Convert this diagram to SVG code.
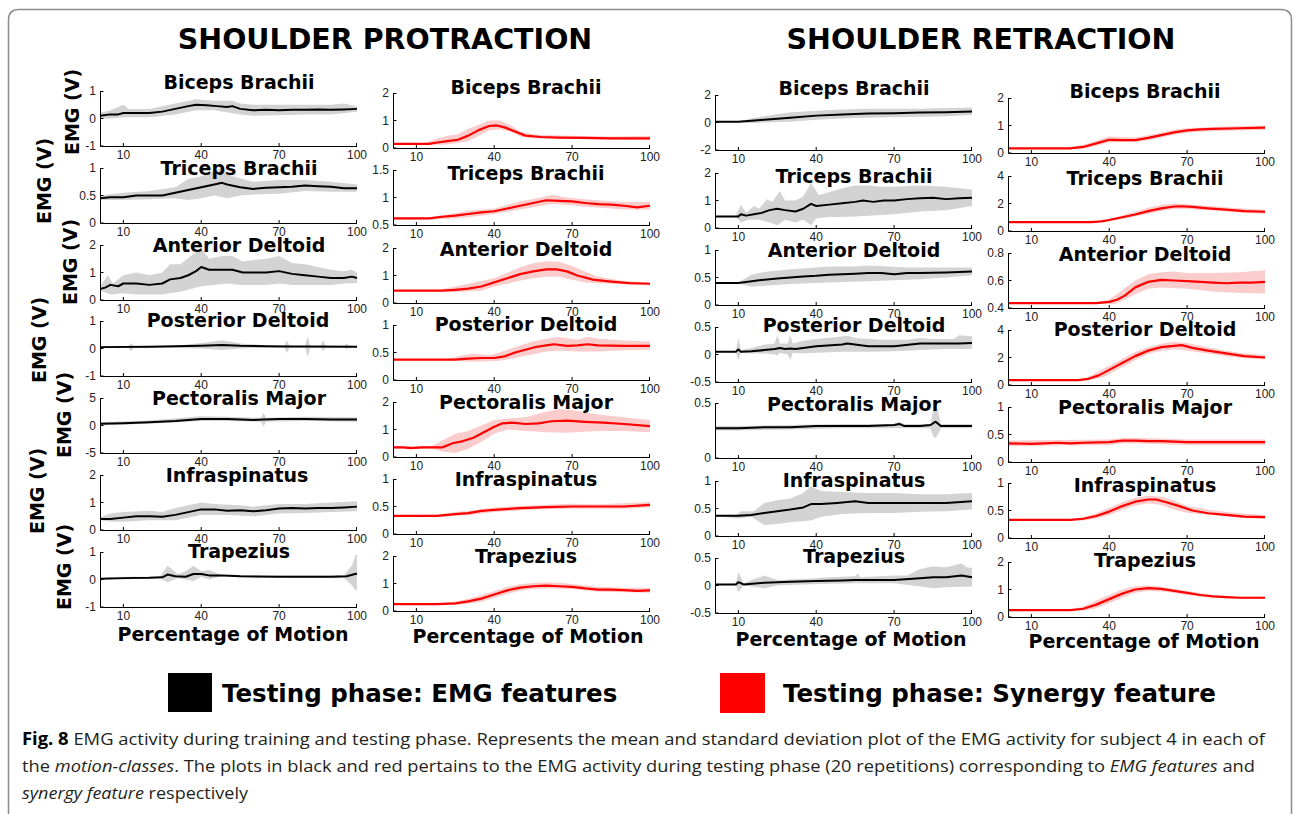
<svg xmlns="http://www.w3.org/2000/svg" xmlns:xlink="http://www.w3.org/1999/xlink" width="1293" height="814" viewBox="0 0 1293 814">
<style>
.ti{font-family:"DejaVu Sans",sans-serif;font-weight:bold;font-size:19px;text-anchor:middle;fill:#000}
.hd{font-family:"DejaVu Sans",sans-serif;font-weight:bold;font-size:28.5px;text-anchor:middle;fill:#000}
.yl{font-family:"DejaVu Sans",sans-serif;font-weight:bold;font-size:19px;text-anchor:middle;fill:#000}
.tk{font-family:"Liberation Sans",Arial,sans-serif;font-size:12px;fill:#222}
.xt{text-anchor:middle}
.yt{font-family:"Liberation Sans",Arial,sans-serif;font-size:12px;fill:#222;text-anchor:end}
.ax{fill:none;stroke:#000;stroke-width:1}
.bk{fill:#d3d3d3}
.br{fill:#fbcccc}
.mk{fill:none;stroke:#000;stroke-width:2;stroke-linejoin:round;vector-effect:non-scaling-stroke}
.mr{fill:none;stroke:#f00;stroke-width:2.2;stroke-linejoin:round;vector-effect:non-scaling-stroke}
.lg{font-family:"DejaVu Sans",sans-serif;font-weight:bold;font-size:24.5px;fill:#000}
.cap{font-family:"Open Sans","Noto Sans",sans-serif;font-size:17px;fill:#231f20}
</style>
<defs>
<g id="axx">
<path class="ax" d="M0.5,0V55.5H257 M0.5,55h0 M23.4,55v-3 M101.2,55v-3 M179.1,55v-3 M256.5,55v-3 M0.5,0.5h3 M0.5,55h3"/>
<text class="tk xt" x="23.4" y="68">10</text>
<text class="tk xt" x="101.2" y="68">40</text>
<text class="tk xt" x="179.1" y="68">70</text>
<text class="tk xt" x="257" y="68">100</text>
</g>
<g id="ax"><use xlink:href="#axx"/><path class="ax" d="M0.5,27.5h3"/></g>
</defs>

<path d="M8.5,814V20Q8.5,9.5 19,9.5H1281Q1291.5,9.5 1291.5,20V814" fill="none" stroke="#8c8c8c" stroke-width="1.5"/>

<text class="hd" x="385" y="49">SHOULDER PROTRACTION</text>
<text class="hd" x="981" y="49">SHOULDER RETRACTION</text>

<g id="ylabels">
<text class="yl" transform="translate(79,112) rotate(-90)">EMG (V)</text>
<text class="yl" transform="translate(51,181) rotate(-90)">EMG (V)</text>
<text class="yl" transform="translate(77,262) rotate(-90)">EMG (V)</text>
<text class="yl" transform="translate(46,340) rotate(-90)">EMG (V)</text>
<text class="yl" transform="translate(71,415) rotate(-90)">EMG (V)</text>
<text class="yl" transform="translate(44,491) rotate(-90)">EMG (V)</text>
<text class="yl" transform="translate(71,567) rotate(-90)">EMG (V)</text>
</g>

<!-- Column 1: protraction EMG -->
<g id="c1r1">
<g transform="translate(97.404,118.5) scale(2.59596,-27.5)">
<path class="bk" d="M1,0.2L5,0.3 10,0.5 12,0.35 20,0.35 30,0.55 38,0.7 45,0.65 52,0.65 55,0.55 60,0.5 70,0.5 80,0.5 90,0.5 95,0.55 100,0.45 100,0.25 90,0.15 80,0.15 70,0.12 60,0.1 55,0.15 45,0.3 38,0.3 30,0.15 20,0.05 10,0.05 5,0 1,0Z"/>
<path class="mk" d="M1,0.1L5,0.15 8,0.15 10,0.2 15,0.2 20,0.2 25,0.25 30,0.35 35,0.45 38,0.5 42,0.48 46,0.45 50,0.42 52,0.45 55,0.35 60,0.3 65,0.32 70,0.3 75,0.32 80,0.32 85,0.33 90,0.32 95,0.33 100,0.35"/>
</g>
<use xlink:href="#ax" x="100" y="91"/>
<text class="yt" x="96" y="95">1</text><text class="yt" x="96" y="122.5">0</text><text class="yt" x="96" y="150">-1</text>
<text class="ti" x="239" y="89">Biceps Brachii</text>
</g>
<g id="c1r2">
<g transform="translate(97.404,223) scale(2.59596,-55)">
<path class="bk" d="M1,0.5L10,0.55 20,0.58 30,0.65 35,0.8 40,0.85 45,0.95 48,1 52,0.85 60,0.75 70,0.78 80,0.78 90,0.75 100,0.7 100,0.57 90,0.57 80,0.58 70,0.53 60,0.52 55,0.5 50,0.45 45,0.5 40,0.45 35,0.42 30,0.45 20,0.43 10,0.42 1,0.42Z"/>
<path class="mk" d="M1,0.45L5,0.47 10,0.47 15,0.5 20,0.5 25,0.5 30,0.55 35,0.6 40,0.65 45,0.7 48,0.73 50,0.7 55,0.65 60,0.62 65,0.64 70,0.65 75,0.66 80,0.68 85,0.67 90,0.66 95,0.63 100,0.63"/>
</g>
<use xlink:href="#ax" x="100" y="168"/>
<text class="yt" x="96" y="172">1</text><text class="yt" x="96" y="199.5">0.5</text><text class="yt" x="96" y="227">0</text>
<text class="ti" x="239" y="175">Triceps Brachii</text>
</g>
<g id="c1r3">
<g transform="translate(97.404,300) scale(2.59596,-27.5)">
<path class="bk" d="M1,0.5L4,0.9 6,0.6 10,0.9 15,1 20,0.9 25,1 28,1.3 32,1.3 36,1.6 40,1.9 43,1.5 48,1.6 52,1.6 56,1.4 60,1.45 65,1.5 70,1.6 75,1.35 80,1.3 85,1.2 90,1.1 95,1.05 98,1.1 100,1 100,0.62 95,0.6 90,0.55 85,0.55 80,0.55 75,0.55 70,0.6 65,0.55 60,0.55 55,0.55 50,0.6 45,0.55 40,0.5 36,0.4 32,0.3 28,0.25 25,0.2 20,0.2 15,0.2 10,0.25 5,0.2 1,0.35Z"/>
<path class="mk" d="M1,0.4L3,0.45 5,0.55 8,0.5 10,0.6 15,0.6 20,0.55 25,0.6 28,0.75 32,0.8 35,0.9 38,1.05 40,1.2 43,1.1 48,1.1 52,1.1 56,1 60,1 65,1 70,1.05 75,0.95 80,0.9 85,0.85 90,0.8 95,0.8 98,0.85 100,0.8"/>
</g>
<use xlink:href="#ax" x="100" y="245"/>
<text class="yt" x="96" y="249">2</text><text class="yt" x="96" y="276.5">1</text><text class="yt" x="96" y="304">0</text>
<text class="ti" x="239" y="252">Anterior Deltoid</text>
</g>
<g id="c1r4">
<g transform="translate(97.404,348.5) scale(2.59596,-27.5)">
<path class="bk" d="M1,0.08L12,0.08 13,0.2 14,0.08 30,0.1 40,0.2 48,0.3 55,0.18 65,0.12 72,0.1 73,0.3 74,0.1 80,0.1 81,0.45 82,0.1 86,0.1 87,0.3 88,0.1 95,0.1 96,0.18 97,0.1 100,0.1 100,0.02 97,0.03 96,-0.02 95,0.03 88,0.03 87,-0.1 86,0.03 82,0.03 81,-0.3 80,0.03 74,0.03 73,-0.15 72,0.03 65,0.03 55,0 48,-0.05 40,0 30,0.02 14,0.02 13,-0.1 12,0.02 1,0.02Z"/>
<path class="mk" d="M1,0.05L20,0.06 30,0.08 40,0.1 48,0.13 55,0.1 65,0.08 73,0.07 80,0.07 100,0.06"/>
</g>
<use xlink:href="#ax" x="100" y="321"/>
<text class="yt" x="96" y="325">1</text><text class="yt" x="96" y="352.5">0</text><text class="yt" x="96" y="380">-1</text>
<text class="ti" x="238" y="327">Posterior Deltoid</text>
</g>
<g id="c1r5">
<g transform="translate(97.404,425.5) scale(2.59596,-5.5)">
<path class="bk" d="M1,0.6L20,0.9 40,1.7 50,1.6 63,1.4 64,2.3 65,1.4 80,1.6 100,1.5 100,0.7 80,0.8 65,0.7 64,-0.2 63,0.7 50,0.8 40,0.8 20,0.3 1,0Z"/>
<path class="mk" d="M1,0.3L10,0.4 20,0.6 30,0.8 35,1 40,1.2 50,1.2 60,1 64,1.1 70,1.2 80,1.2 90,1.1 100,1.1"/>
</g>
<use xlink:href="#ax" x="100" y="398"/>
<text class="yt" x="96" y="402">5</text><text class="yt" x="96" y="429.5">0</text><text class="yt" x="96" y="457">-5</text>
<text class="ti" x="239" y="405">Pectoralis Major</text>
</g>
<g id="c1r6">
<g transform="translate(97.404,530) scale(2.59596,-27.5)">
<path class="bk" d="M1,0.45L5,0.6 10,0.65 20,0.7 25,0.65 30,0.8 40,1 45,0.95 55,0.9 60,0.85 70,0.95 80,0.95 90,1 100,1.05 100,0.68 90,0.65 80,0.62 70,0.6 60,0.5 50,0.55 40,0.55 30,0.35 25,0.35 20,0.35 10,0.3 5,0.3 1,0.35Z"/>
<path class="mk" d="M1,0.4L5,0.4 10,0.45 15,0.5 20,0.5 25,0.48 30,0.55 35,0.65 40,0.75 45,0.75 50,0.7 55,0.72 60,0.68 65,0.72 70,0.78 75,0.8 80,0.78 85,0.8 90,0.8 95,0.82 100,0.85"/>
</g>
<use xlink:href="#ax" x="100" y="475"/>
<text class="yt" x="96" y="479">2</text><text class="yt" x="96" y="506.5">1</text><text class="yt" x="96" y="534">0</text>
<text class="ti" x="237" y="482">Infraspinatus</text>
</g>
<g id="c1r7">
<g transform="translate(97.404,579.5) scale(2.59596,-27.5)">
<path class="bk" d="M1,0.05L10,0.1 24,0.1 27,0.5 31,0.2 34,0.3 37,0.5 40,0.3 43,0.35 47,0.2 60,0.15 95,0.15 98,0.5 99.5,0.9 100,0.9 100,-0.35 99.5,-0.4 98,-0.2 95,0.05 60,0.08 47,0.1 43,0 40,0.1 37,-0.05 34,0 31,0.05 27,-0.1 24,0.05 10,0 1,0Z"/>
<path class="mk" d="M1,0.03L10,0.05 20,0.06 25,0.08 27,0.18 30,0.12 34,0.1 37,0.2 40,0.2 43,0.15 47,0.15 55,0.12 70,0.1 90,0.1 96,0.12 100,0.22"/>
</g>
<use xlink:href="#ax" x="100" y="552"/>
<text class="yt" x="96" y="556">1</text><text class="yt" x="96" y="583.5">0</text><text class="yt" x="96" y="611">-1</text>
<text class="ti" x="239" y="558">Trapezius</text>
<text class="ti" x="233" y="641">Percentage of Motion</text>
</g>

<!-- Column 2: protraction synergy -->
<g id="c2r1">
<g transform="translate(390.404,148) scale(2.59596,-27.5)">
<path class="br" d="M1,0.17L13,0.17 18,0.35 22,0.45 26,0.5 30,0.7 34,0.85 38,1 42,1 46,0.85 50,0.6 56,0.48 70,0.45 85,0.42 100,0.45 100,0.3 85,0.3 70,0.33 56,0.35 50,0.42 46,0.6 42,0.68 38,0.65 34,0.45 30,0.25 26,0.18 20,0.12 15,0.13 1,0.13Z"/>
<path class="mr" d="M1,0.15L15,0.15 18,0.2 22,0.25 26,0.3 30,0.45 34,0.65 38,0.8 41,0.82 44,0.75 48,0.6 52,0.45 58,0.4 65,0.38 75,0.37 85,0.35 100,0.35"/>
</g>
<use xlink:href="#ax" x="393" y="93"/>
<text class="yt" x="389" y="97">2</text><text class="yt" x="389" y="124.5">1</text><text class="yt" x="389" y="152">0</text>
<text class="ti" x="526" y="94">Biceps Brachii</text>
</g>
<g id="c2r2">
<g transform="translate(390.404,252.5) scale(2.59596,-55)">
<path class="br" d="M1,0.64L15,0.64 25,0.72 30,0.76 40,0.8 50,0.93 58,1 62,1.05 68,1 75,0.97 85,0.93 90,0.92 100,0.92 100,0.78 90,0.78 85,0.8 75,0.83 68,0.87 62,0.88 58,0.85 50,0.78 40,0.7 30,0.64 25,0.62 15,0.6 1,0.6Z"/>
<path class="mr" d="M1,0.62L15,0.62 20,0.65 25,0.67 30,0.7 35,0.73 40,0.75 45,0.8 50,0.85 55,0.9 60,0.95 65,0.94 70,0.93 75,0.9 80,0.88 85,0.87 90,0.85 95,0.82 100,0.85"/>
</g>
<use xlink:href="#ax" x="393" y="170"/>
<text class="yt" x="389" y="174">1.5</text><text class="yt" x="389" y="201.5">1</text><text class="yt" x="389" y="229">0.5</text>
<text class="ti" x="526" y="180">Triceps Brachii</text>
</g>
<g id="c2r3">
<g transform="translate(390.404,303) scale(2.59596,-27.5)">
<path class="br" d="M1,0.47L18,0.47 25,0.6 30,0.7 35,0.8 40,0.9 45,1.1 50,1.3 55,1.45 60,1.52 65,1.5 70,1.35 75,1.15 80,0.95 90,0.8 100,0.75 100,0.66 90,0.68 80,0.72 75,0.75 70,0.85 65,0.95 60,0.95 55,0.9 50,0.82 45,0.7 40,0.6 35,0.45 30,0.42 25,0.4 20,0.43 1,0.43Z"/>
<path class="mr" d="M1,0.45L20,0.45 25,0.48 30,0.52 35,0.6 40,0.75 45,0.9 50,1.05 55,1.15 60,1.22 64,1.22 68,1.15 72,1 78,0.85 85,0.78 92,0.72 100,0.7"/>
</g>
<use xlink:href="#ax" x="393" y="248"/>
<text class="yt" x="389" y="252">2</text><text class="yt" x="389" y="279.5">1</text><text class="yt" x="389" y="307">0</text>
<text class="ti" x="526" y="256">Anterior Deltoid</text>
</g>
<g id="c2r4">
<g transform="translate(390.404,380) scale(2.59596,-55)">
<path class="br" d="M1,0.38L22,0.38 28,0.45 32,0.48 38,0.45 42,0.5 48,0.6 55,0.7 60,0.75 65,0.78 72,0.73 76,0.78 80,0.75 90,0.72 100,0.7 100,0.55 90,0.54 80,0.52 72,0.52 65,0.53 60,0.52 55,0.47 48,0.4 42,0.35 38,0.34 30,0.33 25,0.36 1,0.36Z"/>
<path class="mr" d="M1,0.37L25,0.37 30,0.39 35,0.4 40,0.4 44,0.43 48,0.5 52,0.55 56,0.6 60,0.63 63,0.65 68,0.62 72,0.63 76,0.65 80,0.63 90,0.62 100,0.62"/>
</g>
<use xlink:href="#ax" x="393" y="325"/>
<text class="yt" x="389" y="329">1</text><text class="yt" x="389" y="356.5">0.5</text><text class="yt" x="389" y="384">0</text>
<text class="ti" x="526" y="331">Posterior Deltoid</text>
</g>
<g id="c2r5">
<g transform="translate(390.404,457) scale(2.59596,-27.5)">
<path class="br" d="M1,0.4L10,0.4 16,0.4 20,0.6 25,0.85 30,0.95 35,1.15 40,1.35 45,1.4 52,1.45 58,1.6 65,1.75 70,1.7 80,1.55 90,1.45 100,1.35 100,0.9 90,0.95 80,0.95 68,0.88 60,0.9 52,0.95 45,1 40,0.85 35,0.55 30,0.3 25,0.15 20,0.2 16,0.3 10,0.3 1,0.3Z"/>
<path class="mr" d="M1,0.35L5,0.35 8,0.32 12,0.35 16,0.35 20,0.35 24,0.5 28,0.58 32,0.7 36,0.9 40,1.1 43,1.22 47,1.25 52,1.2 57,1.22 62,1.3 68,1.32 75,1.28 82,1.25 90,1.2 100,1.12"/>
</g>
<use xlink:href="#ax" x="393" y="402"/>
<text class="yt" x="389" y="406">2</text><text class="yt" x="389" y="433.5">1</text><text class="yt" x="389" y="461">0</text>
<text class="ti" x="526" y="409">Pectoralis Major</text>
</g>
<g id="c2r6">
<g transform="translate(390.404,534) scale(2.59596,-55)">
<path class="br" d="M1,0.34L18,0.35 25,0.4 30,0.42 40,0.48 50,0.51 60,0.53 70,0.55 80,0.54 90,0.56 100,0.58 100,0.48 90,0.46 80,0.46 70,0.46 60,0.45 50,0.43 40,0.4 30,0.34 25,0.33 18,0.31 1,0.32Z"/>
<path class="mr" d="M1,0.33L18,0.33 25,0.36 30,0.38 35,0.42 40,0.44 50,0.47 60,0.49 70,0.5 80,0.5 90,0.5 100,0.53"/>
</g>
<use xlink:href="#ax" x="393" y="479"/>
<text class="yt" x="389" y="483">1</text><text class="yt" x="389" y="510.5">0.5</text><text class="yt" x="389" y="538">0</text>
<text class="ti" x="526" y="486">Infraspinatus</text>
</g>
<g id="c2r7">
<g transform="translate(390.404,611) scale(2.59596,-27.5)">
<path class="br" d="M1,0.27L18,0.27 25,0.35 30,0.45 35,0.58 40,0.72 45,0.88 50,0.97 55,1.02 60,1.05 65,1.03 70,0.98 80,0.88 90,0.85 100,0.85 100,0.66 90,0.68 80,0.7 70,0.8 60,0.82 55,0.8 50,0.74 45,0.62 40,0.48 35,0.33 30,0.26 25,0.22 18,0.23 1,0.23Z"/>
<path class="mr" d="M1,0.25L18,0.25 25,0.28 30,0.35 35,0.45 40,0.6 45,0.75 50,0.85 55,0.9 60,0.92 65,0.9 70,0.88 75,0.82 80,0.78 85,0.78 90,0.76 95,0.73 100,0.75"/>
</g>
<use xlink:href="#ax" x="393" y="556"/>
<text class="yt" x="389" y="560">2</text><text class="yt" x="389" y="587.5">1</text><text class="yt" x="389" y="615">0</text>
<text class="ti" x="526" y="563">Trapezius</text>
<text class="ti" x="528" y="643">Percentage of Motion</text>
</g>

<!-- Column 3: retraction EMG -->
<g id="c3r1">
<g transform="translate(712.404,122.5) scale(2.59596,-13.75)">
<path class="bk" d="M1,0.08L10,0.08 15,0.3 20,0.45 30,0.75 40,0.85 50,0.95 60,1 70,1 80,1 90,1.05 100,1.1 100,0.55 90,0.45 80,0.42 70,0.38 60,0.35 50,0.3 40,0.2 30,0.05 20,0 15,-0.05 10,0.02 1,0.02Z"/>
<path class="mk" d="M1,0.05L10,0.05 15,0.12 20,0.2 30,0.35 40,0.5 50,0.58 60,0.65 70,0.68 80,0.72 90,0.75 100,0.8"/>
</g>
<use xlink:href="#ax" x="715" y="95"/>
<text class="yt" x="711" y="99">2</text><text class="yt" x="711" y="126.5">0</text><text class="yt" x="711" y="154">-2</text>
<text class="ti" x="854" y="95">Biceps Brachii</text>
</g>
<g id="c3r2">
<g transform="translate(712.404,228) scale(2.59596,-27.5)">
<path class="bk" d="M1,0.45L9,0.45 11,0.85 13,0.55 16,0.8 18,0.7 21,1.05 23,0.95 26,1.35 28,1 32,1 35,1.15 38,1.65 41,1.2 45,1.3 50,1.45 55,1.55 60,1.55 65,1.5 70,1.5 80,1.55 90,1.5 100,1.4 100,0.8 90,0.65 80,0.6 70,0.5 60,0.45 55,0.42 50,0.4 45,0.4 40,0.35 38,0.1 35,0.3 32,0.2 28,0.3 25,0.1 22,0.2 18,0.3 14,0.3 11,0.2 9,0.4 1,0.4Z"/>
<path class="mk" d="M1,0.42L10,0.42 11,0.5 13,0.45 16,0.5 19,0.55 22,0.65 25,0.7 28,0.65 32,0.6 35,0.7 38,0.88 40,0.8 45,0.85 50,0.9 55,0.95 58,1 62,0.95 66,1 70,1 75,1.05 80,1.08 85,1.1 90,1.05 95,1.08 100,1.1"/>
</g>
<use xlink:href="#ax" x="715" y="173"/>
<text class="yt" x="711" y="177">2</text><text class="yt" x="711" y="204.5">1</text><text class="yt" x="711" y="232">0</text>
<text class="ti" x="854" y="183">Triceps Brachii</text>
</g>
<g id="c3r3">
<g transform="translate(712.404,305) scale(2.59596,-55)">
<path class="bk" d="M1,0.41L10,0.41 15,0.55 20,0.6 30,0.65 40,0.68 45,0.7 55,0.7 60,0.72 65,0.71 75,0.68 85,0.68 100,0.68 100,0.54 90,0.5 80,0.47 70,0.45 60,0.43 50,0.42 40,0.4 30,0.38 20,0.35 15,0.33 10,0.39 1,0.39Z"/>
<path class="mk" d="M1,0.4L10,0.4 13,0.42 18,0.45 25,0.48 30,0.5 35,0.52 40,0.53 45,0.55 50,0.56 55,0.57 60,0.58 65,0.58 70,0.56 75,0.58 80,0.58 90,0.59 100,0.61"/>
</g>
<use xlink:href="#ax" x="715" y="250"/>
<text class="yt" x="711" y="254">1</text><text class="yt" x="711" y="281.5">0.5</text><text class="yt" x="711" y="309">0</text>
<text class="ti" x="854" y="257">Anterior Deltoid</text>
</g>
<g id="c3r4">
<g transform="translate(712.404,354.5) scale(2.59596,-55)">
<path class="bk" d="M1,0.06L9,0.06 10,0.3 11,0.08 15,0.12 20,0.18 24,0.2 25,0.35 26,0.2 29,0.2 30,0.35 31,0.2 35,0.25 40,0.28 48,0.32 52,0.34 55,0.3 65,0.27 75,0.27 80,0.3 85,0.28 93,0.28 95,0.35 100,0.33 100,0.1 90,0.1 80,0.08 70,0.06 60,0.05 50,0.05 40,0.03 35,0.02 31,0.03 30,-0.1 29,0 26,0.03 25,-0.02 24,0 20,0.02 15,0.02 11,0.03 10,-0.1 9,0.04 1,0.04Z"/>
<path class="mk" d="M1,0.05L9,0.05 10,0.09 11,0.05 15,0.06 20,0.08 24,0.1 26,0.12 28,0.1 30,0.11 32,0.1 40,0.15 50,0.18 52,0.2 60,0.15 70,0.15 80,0.2 90,0.2 95,0.2 100,0.21"/>
</g>
<use xlink:href="#ax" x="715" y="327"/>
<text class="yt" x="711" y="331">0.5</text><text class="yt" x="711" y="358.5">0</text><text class="yt" x="711" y="386">-0.5</text>
<text class="ti" x="854" y="332">Posterior Deltoid</text>
</g>
<g id="c3r5">
<g transform="translate(712.404,458) scale(2.59596,-110)">
<path class="bk" d="M1,0.29L10,0.29 30,0.3 50,0.31 70,0.31 72,0.33 74,0.31 84,0.31 85,0.43 86,0.5 87,0.42 88,0.31 100,0.31 100,0.27 88,0.27 87,0.22 86,0.18 85,0.2 84,0.27 70,0.27 50,0.27 30,0.26 10,0.25 1,0.25Z"/>
<path class="mk" d="M1,0.27L10,0.27 20,0.28 30,0.28 40,0.29 50,0.29 60,0.29 70,0.3 72,0.31 74,0.29 80,0.29 84,0.3 86,0.33 88,0.29 95,0.29 100,0.29"/>
</g>
<use xlink:href="#axx" x="715" y="403"/>
<text class="yt" x="711" y="407">0.5</text><text class="yt" x="711" y="462">0</text>
<text class="ti" x="854" y="411">Pectoralis Major</text>
</g>
<g id="c3r6">
<g transform="translate(712.404,536) scale(2.59596,-55)">
<path class="bk" d="M1,0.38L9,0.38 11,0.45 16,0.45 20,0.6 25,0.65 30,0.68 35,0.78 38,0.9 42,0.82 50,0.8 60,0.78 70,0.78 80,0.76 90,0.76 100,0.78 100,0.48 90,0.45 80,0.44 70,0.42 60,0.42 50,0.4 42,0.35 38,0.28 30,0.25 25,0.22 20,0.2 15,0.35 10,0.32 1,0.36Z"/>
<path class="mk" d="M1,0.37L10,0.37 15,0.38 20,0.42 25,0.45 30,0.48 35,0.52 38,0.58 42,0.58 48,0.6 55,0.63 60,0.6 70,0.6 80,0.6 90,0.6 100,0.63"/>
</g>
<use xlink:href="#ax" x="715" y="481"/>
<text class="yt" x="711" y="485">1</text><text class="yt" x="711" y="512.5">0.5</text><text class="yt" x="711" y="540">0</text>
<text class="ti" x="854" y="487">Infraspinatus</text>
</g>
<g id="c3r7">
<g transform="translate(712.404,585.5) scale(2.59596,-55)">
<path class="bk" d="M1,0.03L9,0.03 10,0.25 12,0.04 15,0.1 20,0.18 25,0.1 35,0.12 45,0.15 55,0.17 56,0.22 57,0.15 70,0.18 75,0.18 80,0.3 85,0.35 90,0.33 96,0.4 98,0.33 100,0.32 100,-0.02 90,-0.03 85,-0.05 80,-0.02 70,0.04 55,0.04 45,0.03 35,0.02 25,0 20,-0.05 15,-0.02 12,0 10,-0.12 9,0.01 1,0.01Z"/>
<path class="mk" d="M1,0.02L9,0.02 10,0.06 12,0.02 20,0.05 30,0.07 40,0.08 50,0.09 55,0.1 60,0.1 70,0.1 80,0.13 85,0.15 90,0.15 96,0.18 100,0.15"/>
</g>
<use xlink:href="#ax" x="715" y="558"/>
<text class="yt" x="711" y="562">0.5</text><text class="yt" x="711" y="589.5">0</text><text class="yt" x="711" y="617">-0.5</text>
<text class="ti" x="854" y="563">Trapezius</text>
<text class="ti" x="851" y="646">Percentage of Motion</text>
</g>

<!-- Column 4: retraction synergy -->
<g id="c4r1">
<g transform="translate(1005.404,153) scale(2.59596,-27.5)">
<path class="br" d="M1,0.19L23,0.19 30,0.3 35,0.45 40,0.6 45,0.58 50,0.56 55,0.65 60,0.75 65,0.85 70,0.9 80,0.95 90,0.98 100,1 100,0.84 90,0.82 80,0.8 70,0.74 65,0.66 60,0.56 55,0.46 50,0.4 45,0.4 40,0.38 35,0.26 30,0.15 25,0.15 1,0.15Z"/>
<path class="mr" d="M1,0.17L25,0.17 30,0.22 35,0.35 40,0.48 45,0.47 50,0.47 55,0.55 60,0.65 65,0.75 70,0.82 75,0.86 80,0.88 90,0.9 100,0.92"/>
</g>
<use xlink:href="#ax" x="1008" y="98"/>
<text class="yt" x="1004" y="102">2</text><text class="yt" x="1004" y="129.5">1</text><text class="yt" x="1004" y="157">0</text>
<text class="ti" x="1145" y="98">Biceps Brachii</text>
</g>
<g id="c4r2">
<g transform="translate(1005.404,231) scale(2.59596,-13.75)">
<path class="br" d="M1,0.68L33,0.68 40,0.9 45,1.15 50,1.4 55,1.7 60,1.9 65,2 70,1.95 80,1.8 90,1.65 100,1.55 100,1.25 90,1.35 80,1.5 70,1.6 65,1.6 60,1.45 55,1.25 50,1.05 45,0.88 40,0.72 35,0.62 1,0.62Z"/>
<path class="mr" d="M1,0.65L33,0.65 37,0.7 40,0.8 45,1 50,1.2 55,1.45 60,1.65 65,1.78 68,1.8 72,1.75 78,1.65 85,1.55 92,1.45 100,1.4"/>
</g>
<use xlink:href="#ax" x="1008" y="176"/>
<text class="yt" x="1004" y="180">4</text><text class="yt" x="1004" y="207.5">2</text><text class="yt" x="1004" y="235">0</text>
<text class="ti" x="1145" y="185">Triceps Brachii</text>
</g>
<g id="c4r3">
<g transform="translate(1005.404,363) scale(2.59596,-137.5)">
<path class="br" d="M1,0.44L35,0.44 40,0.46 45,0.53 50,0.6 55,0.645 60,0.66 65,0.665 70,0.655 80,0.655 90,0.66 100,0.675 100,0.505 90,0.51 80,0.52 70,0.54 60,0.55 55,0.54 50,0.5 45,0.45 42,0.43 38,0.43 1,0.43Z"/>
<path class="mr" d="M1,0.435L35,0.435 40,0.445 43,0.46 46,0.49 50,0.55 55,0.59 60,0.605 65,0.6 70,0.595 75,0.59 80,0.585 85,0.58 90,0.585 95,0.585 100,0.59"/>
</g>
<use xlink:href="#ax" x="1008" y="253"/>
<text class="yt" x="1004" y="257">0.8</text><text class="yt" x="1004" y="284.5">0.6</text><text class="yt" x="1004" y="312">0.4</text>
<text class="ti" x="1145" y="261">Anterior Deltoid</text>
</g>
<g id="c4r4">
<g transform="translate(1005.404,385) scale(2.59596,-13.75)">
<path class="br" d="M1,0.38L28,0.38 32,0.6 36,1 40,1.4 45,1.9 50,2.4 55,2.75 60,3 65,3.15 70,3.05 78,2.75 85,2.5 92,2.3 100,2.2 100,1.85 92,1.95 85,2.1 78,2.3 70,2.5 65,2.6 60,2.5 55,2.25 50,1.8 46,1.4 42,1 38,0.6 34,0.4 30,0.32 1,0.32Z"/>
<path class="mr" d="M1,0.35L28,0.35 32,0.45 36,0.7 40,1.1 45,1.6 50,2.1 55,2.5 60,2.75 65,2.85 68,2.9 72,2.7 78,2.5 85,2.3 92,2.1 100,2"/>
</g>
<use xlink:href="#ax" x="1008" y="330"/>
<text class="yt" x="1004" y="334">4</text><text class="yt" x="1004" y="361.5">2</text><text class="yt" x="1004" y="389">0</text>
<text class="ti" x="1145" y="336">Posterior Deltoid</text>
</g>
<g id="c4r5">
<g transform="translate(1005.404,462) scale(2.59596,-55)">
<path class="br" d="M1,0.39L20,0.4 40,0.41 46,0.44 55,0.43 70,0.41 90,0.41 100,0.41 100,0.31 90,0.31 70,0.31 55,0.33 46,0.34 40,0.31 20,0.3 1,0.29Z"/>
<path class="mr" d="M1,0.34L10,0.33 15,0.34 20,0.35 25,0.34 30,0.35 40,0.36 45,0.39 50,0.39 55,0.38 60,0.38 65,0.37 70,0.36 80,0.36 90,0.36 100,0.36"/>
</g>
<use xlink:href="#ax" x="1008" y="407"/>
<text class="yt" x="1004" y="411">1</text><text class="yt" x="1004" y="438.5">0.5</text><text class="yt" x="1004" y="466">0</text>
<text class="ti" x="1145" y="414">Pectoralis Major</text>
</g>
<g id="c4r6">
<g transform="translate(1005.404,538) scale(2.59596,-55)">
<path class="br" d="M1,0.34L25,0.34 30,0.38 35,0.45 40,0.55 45,0.65 50,0.73 55,0.77 60,0.75 65,0.68 70,0.58 80,0.5 90,0.45 100,0.42 100,0.35 90,0.37 80,0.42 70,0.46 65,0.52 60,0.6 55,0.63 50,0.59 45,0.51 40,0.42 35,0.35 30,0.32 25,0.32 1,0.32Z"/>
<path class="mr" d="M1,0.33L25,0.33 30,0.35 35,0.4 40,0.48 45,0.58 50,0.66 55,0.7 58,0.7 62,0.65 67,0.58 72,0.5 78,0.45 85,0.42 92,0.39 100,0.38"/>
</g>
<use xlink:href="#ax" x="1008" y="483"/>
<text class="yt" x="1004" y="487">1</text><text class="yt" x="1004" y="514.5">0.5</text><text class="yt" x="1004" y="542">0</text>
<text class="ti" x="1145" y="492">Infraspinatus</text>
</g>
<g id="c4r7">
<g transform="translate(1005.404,617) scale(2.59596,-27.5)">
<path class="br" d="M1,0.27L25,0.27 30,0.38 35,0.6 40,0.8 45,1 50,1.12 55,1.15 60,1.1 65,1.02 70,0.95 80,0.8 90,0.74 100,0.74 100,0.66 90,0.67 80,0.7 70,0.8 65,0.87 60,0.93 55,0.95 50,0.88 45,0.7 40,0.5 35,0.32 30,0.23 25,0.23 1,0.23Z"/>
<path class="mr" d="M1,0.25L25,0.25 30,0.3 35,0.45 40,0.65 45,0.85 50,1 55,1.05 60,1.02 65,0.95 70,0.88 75,0.8 80,0.75 85,0.72 90,0.7 100,0.7"/>
</g>
<use xlink:href="#ax" x="1008" y="562"/>
<text class="yt" x="1004" y="566">2</text><text class="yt" x="1004" y="593.5">1</text><text class="yt" x="1004" y="621">0</text>
<text class="ti" x="1145" y="567">Trapezius</text>
<text class="ti" x="1144" y="648">Percentage of Motion</text>
</g>

<g id="legend">
<rect x="168" y="673" width="44" height="39" fill="#000"/>
<text class="lg" x="222" y="702">Testing phase: EMG features</text>
<rect x="720" y="673" width="45" height="40" fill="#f00"/>
<text class="lg" x="783" y="702">Testing phase: Synergy feature</text>
</g>

<g id="caption">
<text class="cap" x="22" y="745" textLength="1243" lengthAdjust="spacingAndGlyphs"><tspan font-weight="bold" fill="#000">Fig. 8</tspan> EMG activity during training and testing phase. Represents the mean and standard deviation plot of the EMG activity for subject 4 in each of</text>
<text class="cap" x="22" y="772" textLength="1233" lengthAdjust="spacingAndGlyphs">the <tspan font-style="italic">motion-classes</tspan>. The plots in black and red pertains to the EMG activity during testing phase (20 repetitions) corresponding to <tspan font-style="italic">EMG features</tspan> and</text>
<text class="cap" x="22" y="799" textLength="226" lengthAdjust="spacingAndGlyphs"><tspan font-style="italic">synergy feature</tspan> respectively</text>
</g>
</svg>
